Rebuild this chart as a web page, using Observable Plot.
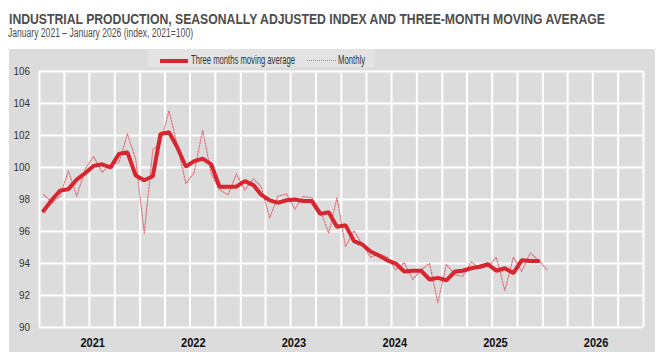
<!DOCTYPE html>
<html>
<head>
<meta charset="utf-8">
<script src="https://cdn.jsdelivr.net/npm/d3@7"></script>
<script src="https://cdn.jsdelivr.net/npm/@observablehq/plot@0.6"></script>
<style>
  html, body { margin: 0; padding: 0; background: #fff; }
  body { width: 665px; height: 356px; position: relative; overflow: hidden;
         font-family: "Liberation Sans", Arial, sans-serif; }
  .fit { position: absolute; white-space: nowrap; transform-origin: 0 0; }
  .title { left: 9px; top: 10.7px; font-size: 15px; line-height: 15px; font-weight: bold; color: #4d4d4d; }
  .subtitle { left: 8px; top: 27.4px; font-size: 12.5px; line-height: 12.5px; color: #4d4d4d; }
  .panel { position: absolute; left: 9px; top: 49px; width: 646px; height: 303px; background: #dcdcdc; }
  #chart { position: absolute; left: 0; top: 49px; }
  .legendbox { position: absolute; left: 148px; top: 49px; width: 227px; height: 18px; background: #e3e3e3; }
  .leg { top: 53.6px; font-size: 12.2px; line-height: 12.2px; color: #333; }
  .sw { position: absolute; height: 0; }
</style>
</head>
<body>
<div class="fit title" data-w="596">INDUSTRIAL PRODUCTION, SEASONALLY ADJUSTED INDEX AND THREE-MONTH MOVING AVERAGE</div>
<div class="fit subtitle" data-w="185">January 2021 – January 2026 (index, 2021=100)</div>
<div class="panel"></div>
<div id="chart"></div>
<div class="legendbox"></div>
<div class="sw" style="left:160px; top:58.5px; width:28px; border-top:4px solid #d7262f;"></div>
<div class="fit leg" style="left:191px;" data-w="104">Three months moving average</div>
<div class="sw" style="left:307px; top:60px; width:29px; border-top:1px dotted #e0707a;"></div>
<div class="fit leg" style="left:338px;" data-w="27">Monthly</div>
<script>
// ---- Data ----
const firstMonth = "2021-01";
const monthly = [
  98.3, 97.8, 98.2, 99.8, 98.2, 99.9, 100.7, 99.7, 100.2, 100.3, 102.1, 100.5,
  95.9, 101.1, 101.55, 103.55, 101.35, 99.0, 99.7, 102.35, 99.6, 98.6, 98.3, 99.6,
  98.6, 99.3, 98.8, 96.85, 98.2, 98.35, 97.4, 98.2, 98.1, 97.35, 95.9, 98.1,
  95.05, 96.05, 95.2, 94.4, 94.6, 94.4, 93.6, 94.05, 93.0, 93.6, 94.0, 91.55,
  93.95, 93.3, 93.2, 94.1, 93.7, 93.8, 94.4, 92.3, 94.4, 93.5, 94.65, 94.2,
  93.6
];
const movingAverage = [
  97.3, 98.0, 98.55, 98.65, 99.25, 99.65, 100.1, 100.2, 100.0, 100.85, 100.95, 99.5,
  99.2, 99.45, 102.1, 102.2, 101.25, 100.05, 100.4, 100.55, 100.2, 98.8, 98.8, 98.8,
  99.15, 98.9, 98.3, 97.95, 97.8, 97.95, 98.0, 97.9, 97.9, 97.1, 97.2, 96.3,
  96.4, 95.4, 95.2, 94.75, 94.5, 94.2, 94.0, 93.5, 93.55, 93.55, 93.0, 93.1,
  92.95, 93.5, 93.55, 93.7, 93.8, 93.95, 93.55, 93.7, 93.4, 94.2, 94.15, 94.15
];
const yTicks = [90, 92, 94, 96, 98, 100, 102, 104, 106];
const yearLabels = ["2021", "2022", "2023", "2024", "2025", "2026"];

// ---- Derived tables ----
const start = d3.utcParse("%Y-%m")(firstMonth);
const midMonth = i => d3.utcDay.offset(d3.utcMonth.offset(start, i), 15);
const monthlyRows = monthly.map((v, i) => ({date: midMonth(i), value: v}));
const maRows = movingAverage.map((v, i) => ({date: midMonth(i), value: v}));
const xStart = new Date(Date.UTC(+yearLabels[0], 0, 1));
const xEnd = new Date(Date.UTC(+yearLabels[yearLabels.length - 1] + 1, 0, 1));
const quarterLines = d3.utcMonth.every(3).range(xStart, d3.utcDay.offset(xEnd, 1));
const yearMid = yearLabels.map(y => new Date(Date.UTC(+y, 6, 2)));

const red = "#d7262f";

const chart = Plot.plot({
  width: 665,
  height: 303,
  marginLeft: 39,
  marginRight: 22,
  marginTop: 22,
  marginBottom: 25,
  style: {background: "transparent", fontFamily: '"Liberation Sans", Arial, sans-serif', overflow: "visible"},
  x: {type: "utc", domain: [xStart, xEnd], axis: null},
  y: {domain: [90, 106], axis: null},
  marks: [
    Plot.ruleY(yTicks, {stroke: "white", strokeWidth: 2}),
    Plot.ruleX(quarterLines, {stroke: "white", strokeWidth: 2}),
    Plot.axisY(yTicks, {tickSize: 0, tickPadding: 9.5, fontSize: 11.6, fill: "#333", label: null}),
    Plot.axisX(yearMid, {tickSize: 0, tickPadding: 10, fontSize: 13, fontWeight: "bold", fill: "#111", dx: 3,
      tickFormat: d => String(d.getUTCFullYear()), label: null}),
    Plot.line(monthlyRows, {x: "date", y: "value", stroke: "#e0707a", strokeWidth: 1.2, strokeDasharray: "1.5,1.5"}),
    Plot.line(maRows, {x: "date", y: "value", stroke: red, strokeWidth: 4, strokeLinejoin: "miter"})
  ]
});
document.getElementById("chart").appendChild(chart);

// Narrow the SVG labels (the reference uses a condensed face)
chart.querySelectorAll("text").forEach(t => {
  const tr = t.getAttribute("transform") || "";
  t.setAttribute("transform", (tr + " scale(0.85,1)").trim());
});
// Fit the HTML texts to the widths they take in the reference
document.querySelectorAll(".fit").forEach(el => {
  const w = el.getBoundingClientRect().width;
  const target = +el.dataset.w;
  if (w > 0) el.style.transform = `scaleX(${target / w})`;
});
</script>
</body>
</html>
